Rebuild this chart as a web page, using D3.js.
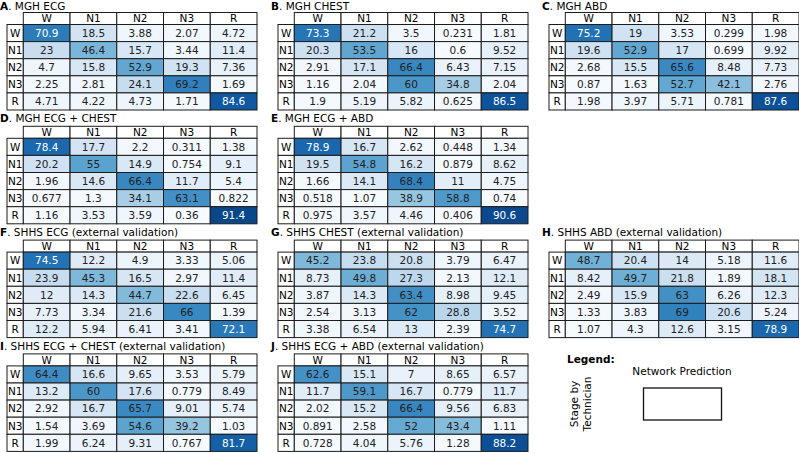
<!DOCTYPE html>
<html><head><meta charset="utf-8">
<script src="https://cdn.jsdelivr.net/npm/d3@7"></script>
<style>body{margin:0;background:#fff} svg{display:block;font-family:"DejaVu Sans",sans-serif}</style>
</head><body><svg id="c" width="799" height="454"></svg>
<script>
const stages = ["W","N1","N2","N3","R"];
const letters = ["A","B","C","D","E","F","G","H","I","J"];
const titles = ["MGH ECG","MGH CHEST","MGH ABD","MGH ECG + CHEST","MGH ECG + ABD",
  "SHHS ECG (external validation)","SHHS CHEST (external validation)","SHHS ABD (external validation)",
  "SHHS ECG + CHEST (external validation)","SHHS ECG + ABD (external validation)"];

const mghEcg = [[70.9,18.5,3.88,2.07,4.72],[23,46.4,15.7,3.44,11.4],[4.7,15.8,52.9,19.3,7.36],[2.25,2.81,24.1,69.2,1.69],[4.71,4.22,4.73,1.71,84.6]];
const mghChest = [[73.3,21.2,3.5,0.231,1.81],[20.3,53.5,16,0.6,9.52],[2.91,17.1,66.4,6.43,7.15],[1.16,2.04,60,34.8,2.04],[1.9,5.19,5.82,0.625,86.5]];
const mghAbd = [[75.2,19,3.53,0.299,1.98],[19.6,52.9,17,0.699,9.92],[2.68,15.5,65.6,8.48,7.73],[0.87,1.63,52.7,42.1,2.76],[1.98,3.97,5.71,0.781,87.6]];
const mghEcgChest = [[78.4,17.7,2.2,0.311,1.38],[20.2,55,14.9,0.754,9.1],[1.96,14.6,66.4,11.7,5.4],[0.677,1.3,34.1,63.1,0.822],[1.16,3.53,3.59,0.36,91.4]];
const mghEcgAbd = [[78.9,16.7,2.62,0.448,1.34],[19.5,54.8,16.2,0.879,8.62],[1.66,14.1,68.4,11,4.75],[0.518,1.07,38.9,58.8,0.74],[0.975,3.57,4.46,0.406,90.6]];
const shhsEcg = [[74.5,12.2,4.9,3.33,5.06],[23.9,45.3,16.5,2.97,11.4],[12,14.3,44.7,22.6,6.45],[7.73,3.34,21.6,66,1.39],[12.2,5.94,6.41,3.41,72.1]];
const shhsChest = [[45.2,23.8,20.8,3.79,6.47],[8.73,49.8,27.3,2.13,12.1],[3.87,14.3,63.4,8.98,9.45],[2.54,3.13,62,28.8,3.52],[3.38,6.54,13,2.39,74.7]];
const shhsAbd = [[48.7,20.4,14,5.18,11.6],[8.42,49.7,21.8,1.89,18.1],[2.49,15.9,63,6.26,12.3],[1.33,3.83,69,20.6,5.24],[1.07,4.3,12.6,3.15,78.9]];
const shhsEcgChest = [[64.4,16.6,9.65,3.53,5.79],[13.2,60,17.6,0.779,8.49],[2.92,16.7,65.7,9.01,5.74],[1.54,3.69,54.6,39.2,1.03],[1.99,6.24,9.31,0.767,81.7]];
const shhsEcgAbd = [[62.6,15.1,7,8.65,6.57],[11.7,59.1,16.7,0.779,11.7],[2.02,15.2,66.4,9.56,6.83],[0.891,2.58,52,43.4,1.11],[0.728,4.04,5.76,1.28,88.2]];
const matrices = [mghEcg,mghChest,mghAbd,mghEcgChest,mghEcgAbd,shhsEcg,shhsChest,shhsAbd,shhsEcgChest,shhsEcgAbd];
const gridCol = [0,1,2,0,1,0,1,2,0,1];
const gridRow = [0,0,0,1,1,2,2,2,3,3];

const svg = d3.select("#c");
const color = d3.scaleSequential(d3.interpolateBlues).domain([0,100]);
const colX = d3.scaleLinear().domain([0,1]).range([0,271]);
const rowY = d3.scaleLinear().domain([0,1]).range([12.5,126.3]);
const FS = 10.5, LINE = "#1c1c1c";

matrices.forEach((m,i)=>{
  const x0 = colX(gridCol[i]), top = rowY(gridRow[i]);
  const g = svg.append("g");
  const x = d3.scaleBand().domain(stages).range([x0+23.3, x0+257]);
  const y = d3.scaleBand().domain(stages).range([top+12, top+12+85.5]);
  const t = g.append("text").attr("x",x0).attr("y",Math.max(top-4.3, 9.9)).attr("font-size",FS);
  t.append("tspan").attr("font-weight","bold").text(letters[i]);
  t.append("tspan").text(". "+titles[i]);
  // header
  stages.forEach(s=>{
    g.append("rect").attr("x",x(s)).attr("y",top).attr("width",x.bandwidth()).attr("height",12)
      .attr("fill","#fff").attr("stroke",LINE).attr("stroke-width",1);
    g.append("text").attr("x",x(s)+x.bandwidth()/2).attr("y",top+9.8).attr("text-anchor","middle")
      .attr("font-size",FS).text(s);
    g.append("rect").attr("x",x0+7).attr("y",y(s)).attr("width",x(stages[0])-(x0+7)).attr("height",y.bandwidth())
      .attr("fill","#fff").attr("stroke",LINE).attr("stroke-width",1);
    g.append("text").attr("x",(x0+7+x(stages[0]))/2).attr("y",y(s)+y.bandwidth()/2).attr("dy","0.36em")
      .attr("text-anchor","middle").attr("font-size",FS).text(s);
  });
  const cells = [];
  m.forEach((row,r)=>row.forEach((v,c)=>cells.push({r:stages[r],c:stages[c],v})));
  g.selectAll("rect.cell").data(cells).enter().append("rect").attr("class","cell")
    .attr("x",d=>x(d.c)).attr("y",d=>y(d.r)).attr("width",x.bandwidth()).attr("height",y.bandwidth())
    .attr("fill",d=>color(d.v)).attr("stroke",LINE).attr("stroke-width",1);
  g.selectAll("text.val").data(cells).enter().append("text").attr("class","val")
    .attr("x",d=>x(d.c)+x.bandwidth()/2).attr("y",d=>y(d.r)+y.bandwidth()/2).attr("dy","0.36em")
    .attr("text-anchor","middle").attr("font-size",FS)
    .attr("fill",d=>d.v>70?"#fff":"#222").text(d=>String(d.v));
});

// legend
const lg = svg.append("g");
lg.append("text").attr("x",567).attr("y",363).attr("font-size",FS).attr("font-weight","bold").text("Legend:");
lg.append("text").attr("x",682).attr("y",374.5).attr("font-size",FS).attr("text-anchor","middle").text("Network Prediction");
lg.append("rect").attr("x",643.5).attr("y",388).attr("width",78).attr("height",32).attr("fill","none").attr("stroke","#111").attr("stroke-width",1.3);
lg.append("text").attr("transform","translate(578,404) rotate(-90)").attr("font-size",FS).attr("text-anchor","middle").text("Stage by");
lg.append("text").attr("transform","translate(590.5,404) rotate(-90)").attr("font-size",FS).attr("text-anchor","middle").text("Technician");
</script></body></html>
